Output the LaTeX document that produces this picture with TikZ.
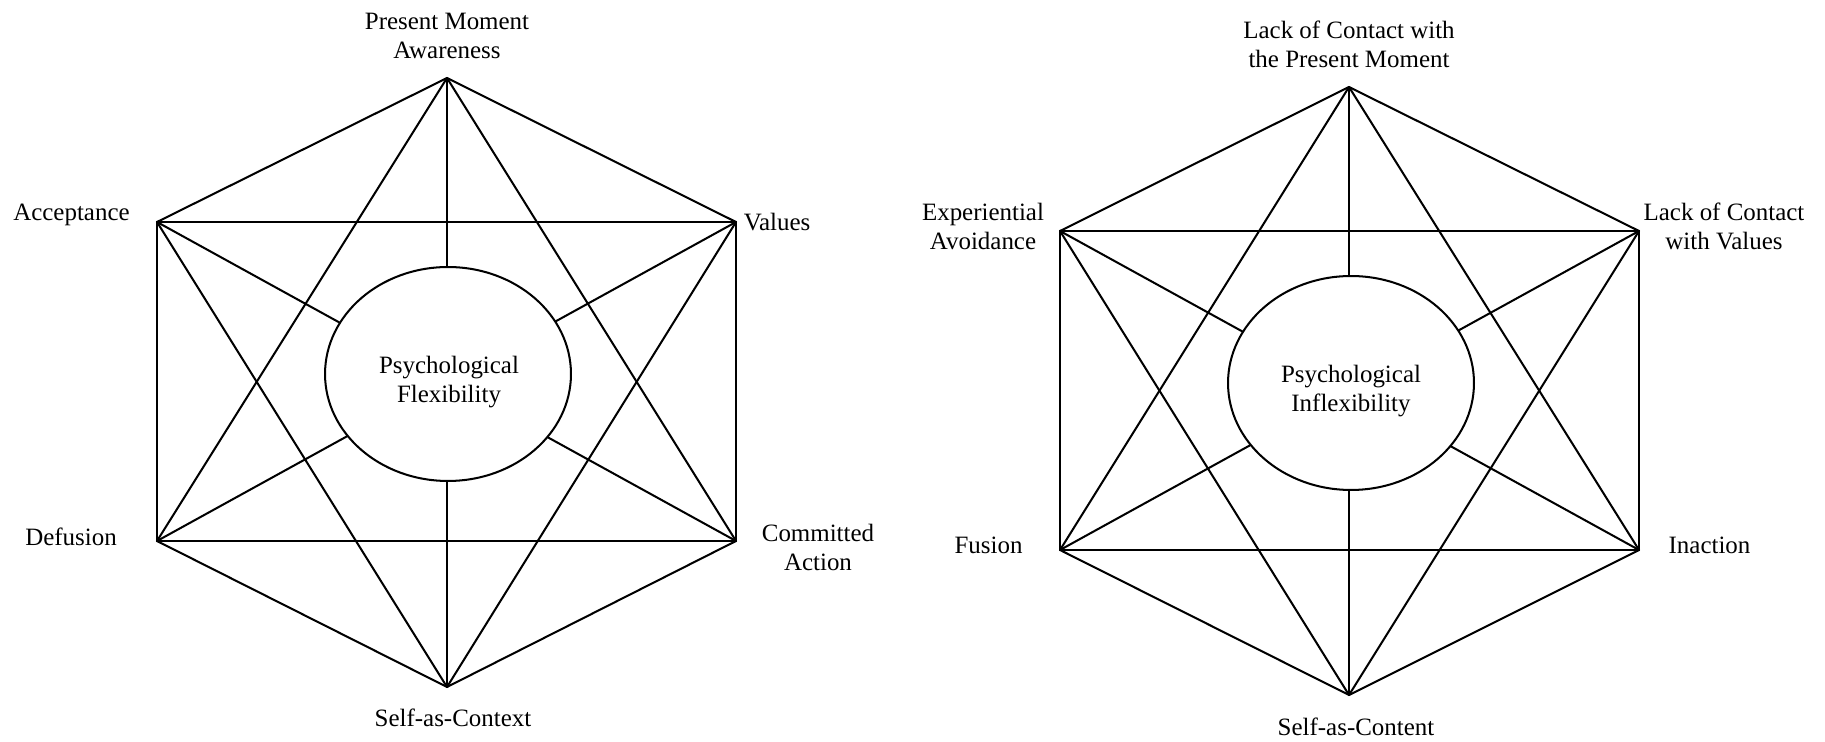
\documentclass[tikz,border=0pt]{standalone}
\usepackage{fontspec}
\setmainfont{Liberation Serif}
\usetikzlibrary{shapes.geometric}
\begin{document}
\begin{tikzpicture}[x=0.02cm,y=-0.02cm,
  edge/.style={line width=1.15pt, line cap=round, line join=round},
  lbl/.style={align=center, inner sep=0pt, font=\fontsize{14.2}{16.5}\selectfont},
  hub/.style={draw, ellipse, fill=white, line width=1.15pt, minimum width=4.92cm, minimum height=4.28cm, inner sep=0pt}]
\useasboundingbox (0,0) rectangle (1825,742);
% left hexagon vertices
\coordinate (LT)  at (447,78);
\coordinate (LUL) at (157,222);
\coordinate (LUR) at (736,222);
\coordinate (LLL) at (157,541);
\coordinate (LLR) at (736,541);
\coordinate (LB)  at (447,687);
% right hexagon vertices
\coordinate (RT)  at (1349,87);
\coordinate (RUL) at (1060,231);
\coordinate (RUR) at (1639,231);
\coordinate (RLL) at (1060,550);
\coordinate (RLR) at (1639,550);
\coordinate (RB)  at (1349,695);
% all connections
\foreach \p in {L,R}{
  \foreach \a/\b in {T/UL,T/UR,T/LL,T/LR,T/B,UL/UR,UL/LL,UL/LR,UL/B,UR/LL,UR/LR,UR/B,LL/LR,LL/B,LR/B}{
    \draw[edge] (\p\a) -- (\p\b);
  }
}
% central ellipses
\node[hub] (flex) at (448,374) {};
\node[lbl] (flextxt) at (449,382) {Psychological\\Flexibility};
\node[hub] (inflex) at (1351,383) {};
\node[lbl] (inflextxt) at (1351,391) {Psychological\\Inflexibility};
% left labels
\node[lbl] (pma) at (447,36) {Present Moment\\Awareness};
\node[lbl] (acc) at (71.5,215) {Acceptance};
\node[lbl] (val) at (777,222) {Values};
\node[lbl] (def) at (71,537) {Defusion};
\node[lbl] (com) at (818,547) {Committed\\Action};
\node[lbl] (sac) at (453,718) {Self-as-Context};
% right labels
\node[lbl] (lcp) at (1349,44) {Lack of Contact with\\the Present Moment};
\node[lbl] (exa) at (983,226) {Experiential\\Avoidance};
\node[lbl] (lcv) at (1724,226) {Lack of Contact\\with Values};
\node[lbl] (fus) at (988.5,545) {Fusion};
\node[lbl] (ina) at (1709.5,545) {Inaction};
\node[lbl] (sacn) at (1356,727) {Self-as-Content};
\end{tikzpicture}
\end{document}
